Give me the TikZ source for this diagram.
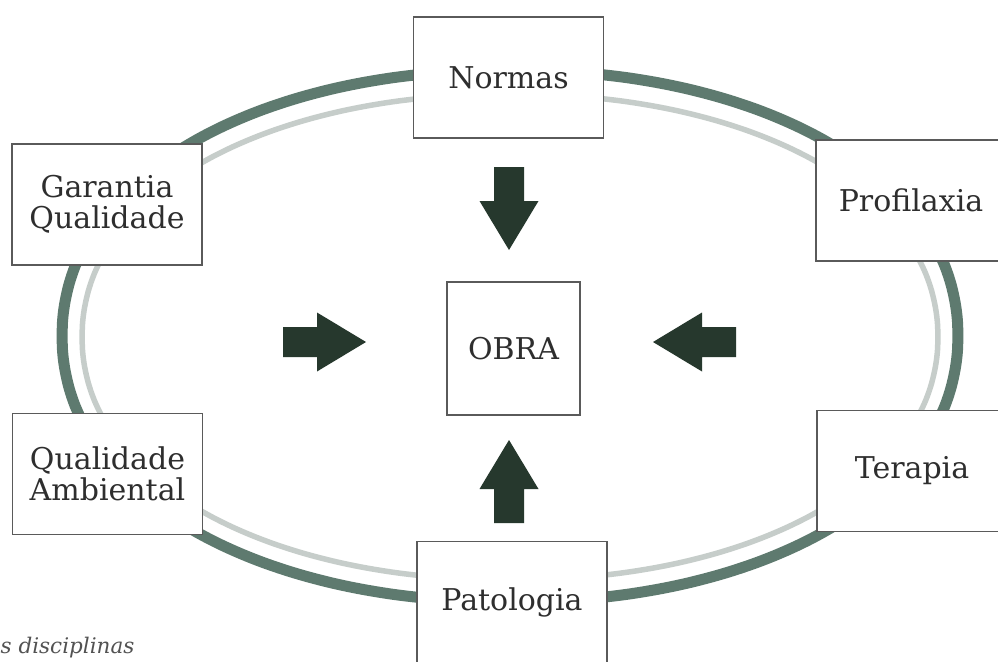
\documentclass[tikz,border=0pt]{standalone}
\usepackage{fontspec}
\setmainfont{DejaVu Serif}
\definecolor{ringdark}{HTML}{5E7A6F}
\definecolor{ringlight}{HTML}{C6CDCA}
\definecolor{boxline}{HTML}{5A5A5A}
\definecolor{labeltext}{HTML}{2E2E2E}
\definecolor{arrowfill}{HTML}{26382D}
\tikzset{
  x=1pt, y=-1pt,
  declare function={
    sex(\t)=cos(\t)/(abs(cos(\t))^2.1+abs(sin(\t))^2.1)^(1/2.1);
    sey(\t)=sin(\t)/(abs(cos(\t))^2.1+abs(sin(\t))^2.1)^(1/2.1);
  },
  topic/.style={draw=boxline, line width=1.3pt, fill=white, text=labeltext,
    minimum width=190pt, minimum height=121pt, inner sep=0pt, align=center,
    font=\fontsize{30}{31}\selectfont},
  core/.style={topic, minimum width=133pt, minimum height=133pt},
  blockarrow/.pic={
    \fill[arrowfill] (0,-15) -- (34,-15) -- (34,-29.5) -- (83,0)
      -- (34,29.5) -- (34,15) -- (0,15) -- cycle;
  },
}
\begin{document}
\begin{tikzpicture}
\useasboundingbox (0,0) rectangle (998,661);
\fill[white] (0,0) rectangle (998,661);

% the two rings around the centre
\draw[ringdark, line width=11pt] plot[domain=1:361, samples=181, smooth cycle]
  ({510+448*sex(\x)}, {336+266*sey(\x)});
\draw[ringlight, line width=5.5pt] plot[domain=1:361, samples=181, smooth cycle]
  ({510+428*sex(\x)}, {337+243*sey(\x)});

% disciplines on the ring
\node[topic] (normas)    at (508.5,77.5) {Normas};
\node[topic] (garantia)  at (107,204.5)  {Garantia\\Qualidade};
\node[topic] (profilax)  at (911,200.5)  {Profilaxia};
\node[topic] (ambiental) at (107.5,474)  {Qualidade\\Ambiental};
\node[topic] (terapia)   at (912,471)    {Terapia};
\node[topic] (patologia) at (512,602)    {Patologia};

% the work in the middle
\node[core] (obra) at (513.5,348.5) {OBRA};

% block arrows pointing at the work
\pic at (283,342) {blockarrow};
\pic[rotate=180] at (736,342) {blockarrow};
\pic[rotate=-90] at (509,167) {blockarrow};
\pic[rotate=90] at (509,523) {blockarrow};

% caption fragment
\node[anchor=base west, inner sep=0pt, text=black!68,
  font=\fontsize{21.5}{22}\selectfont\itshape] (caption) at (0.5,653) {s disciplinas};
\end{tikzpicture}
\end{document}
